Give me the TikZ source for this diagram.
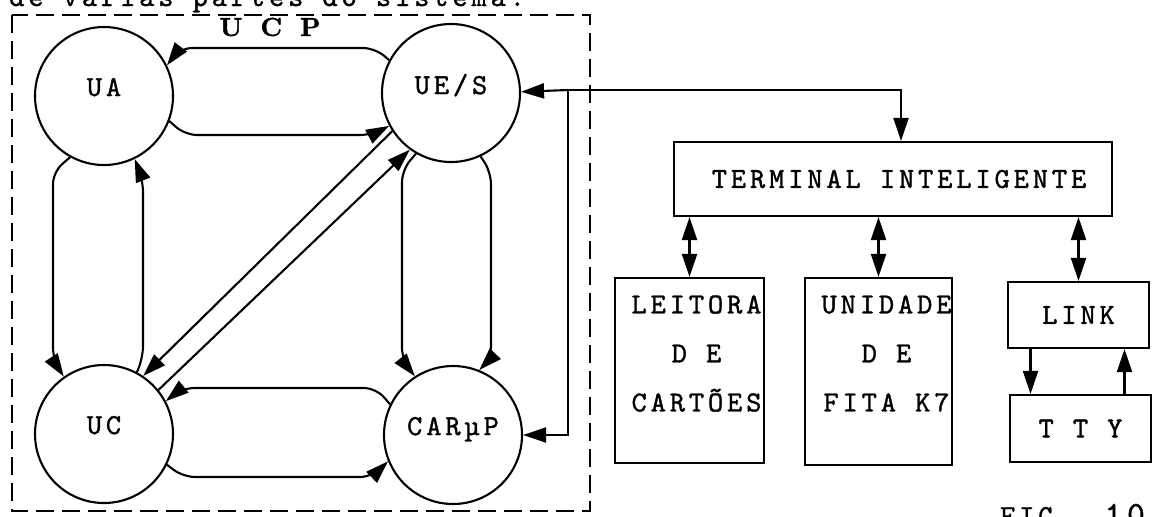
\documentclass[tikz,border=0pt]{standalone}
\usepackage{fontspec}
\newfontfamily\twfont{lmmono10-regular.otf}[LetterSpace=13.4, FakeBold=1.2]
\newfontfamily\ucpfont{lmroman10-bold.otf}[FakeBold=1.5]
\usetikzlibrary{arrows.meta,calc}

\begin{document}
\begin{tikzpicture}[
  x=0.5pt, y=-0.5pt,
  font=\fontsize{14.5}{24.5}\twfont,
  unit/.style={draw, circle, line width=1.05pt, minimum size=69pt, inner sep=0pt, text depth=9pt},
  box/.style={draw, line width=1.05pt, inner sep=0pt},
  boxtxt/.style={align=center, inner sep=0pt},
  arr/.style={-{Triangle[length=11.5pt,width=7.5pt]}, line width=1.05pt},
  both/.style={{Triangle[length=11.5pt,width=7.5pt]}-{Triangle[length=11.5pt,width=7.5pt]}, line width=1.05pt},
  frame/.style={line width=1pt, dash pattern=on 9pt off 4pt},
]
\useasboundingbox (0,0) rectangle (1154,516);

\node[anchor=base east] (caption) at (532,6) {de várias partes do sistema.};
\draw[frame] (12,15) rectangle (590,511);
\node[font=\fontsize{13}{15}\ucpfont] (ucp) at (270,27) {U\hspace{9pt}C\hspace{9pt}P};

\node[unit] (ua)    at (104,96)  {UA};
\node[unit] (ues)   at (451,93)  {UE/S};
\node[unit] (uc)    at (104,434) {UC};
\node[unit] (carup) at (453,435) {CARµP};

\node[box, minimum width=219pt, minimum height=37pt] (term) at (893,179) {};
\node (termtxt) at ([xshift=3pt]term.center) {TERMINAL INTELIGENTE};
\node[box, minimum width=74.5pt, minimum height=92.5pt] (leit) at (689.5,370.5) {};
\node[boxtxt, anchor=north] (leittxt) at ([xshift=3.5pt,yshift=-9pt]leit.north) {LEITORA\\D E\\CARTÕES};
\node[box, minimum width=73.5pt, minimum height=93.5pt] (unid) at (878.5,371.5) {};
\node[boxtxt, anchor=north] (unidtxt) at ([xshift=4pt,yshift=-9pt]unid.north) {UNIDADE\\D E\\FITA K7};
\node[box, minimum width=70.5pt, minimum height=33pt] (link) at (1078.5,315) {LINK};
\node[box, minimum width=70.5pt, minimum height=33.5pt] (tty) at (1080.5,428.5) {T T Y};
\node[anchor=base west] (fig) at (993,525) {FIG.\hspace{16pt}{\fontsize{17}{20}\selectfont 10}};

\draw[arr, rounded corners=6pt] (ues.152) -- (375,48) -- (180,48) -- (ua.26);
\draw[arr, rounded corners=6pt] (ua.-21) -- (185,135) -- (372,135) -- (ues.-152);
\draw[arr, rounded corners=6pt] (carup.154) -- (376,388) -- (182,388) -- (uc.28);
\draw[arr, rounded corners=6pt] (uc.-26) -- (183,477) -- (372,477) -- (carup.-158);
\draw[arr, rounded corners=6pt] (ua.-119) -- (53,172) -- (53,360) -- (uc.125);
\draw[arr, rounded corners=6pt] (uc.62) -- (143,358) -- (143,180) -- (ua.-64);
\draw[arr, rounded corners=6pt] (ues.-120) -- (402,170) -- (402,360) -- (carup.123);
\draw[arr, rounded corners=6pt] (ues.-65) -- (491,172) -- (491,358) -- (carup.68);
\draw[arr] (ues.-147) -- (uc.56);
\draw[arr] (uc.39) -- (ues.-126);

\coordinate (bus) at (568,90);
\draw[arr] (bus) -- (ues.1);
\draw[arr] (bus) |- (carup.east);
\draw[arr] (bus) -| ($(term.north)+(8,0)$);

\draw[both] (term.south -| leit.north) -- (leit.north);
\draw[both] (term.south -| unid.north) -- (unid.north);
\draw[both] (term.south -| link.north) -- (link.north);
\draw[arr] ($(link.south)+(-48,0)$) -- ($(tty.north)+(-50,0)$);
\draw[arr] ($(tty.north)+(44,0)$) -- ($(link.south)+(46,0)$);
\end{tikzpicture}
\end{document}
